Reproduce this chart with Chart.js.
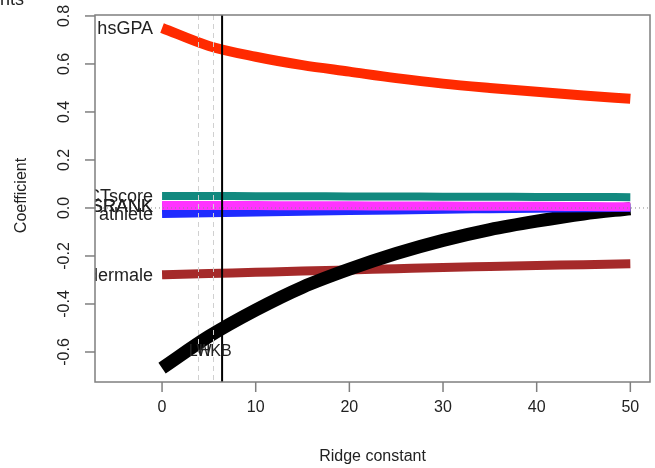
<!DOCTYPE html>
<html>
<head>
<meta charset="utf-8">
<script src="https://cdn.jsdelivr.net/npm/chart.js@4/dist/chart.umd.min.js"></script>
<style>
  body { margin: 0; background: #fff; }
</style>
</head>
<body>
<canvas id="ridge" width="655" height="468"></canvas>
<script>
// Valeurs (trace ridge)
const lambdas = [0, 5, 10, 15, 20, 25, 30, 35, 40, 45, 50];

const hsGPA      = [0.750, 0.675, 0.630, 0.595, 0.568, 0.541, 0.518, 0.500, 0.484, 0.469, 0.455];
const sexe       = [-0.667, -0.535, -0.425, -0.330, -0.255, -0.190, -0.135, -0.090, -0.055, -0.025, -0.003];
const gendermale = [-0.278, -0.273, -0.268, -0.263, -0.258, -0.253, -0.248, -0.244, -0.240, -0.236, -0.232];
const ACTscore   = [0.050, 0.050, 0.049, 0.049, 0.048, 0.048, 0.047, 0.047, 0.046, 0.046, 0.045];
const SRANK      = [0.010, 0.010, 0.010, 0.009, 0.009, 0.008, 0.008, 0.007, 0.007, 0.006, 0.005];
const HSRANK     = [0.007, 0.007, 0.007, 0.007, 0.007, 0.006, 0.006, 0.006, 0.005, 0.005, 0.004];
const athlete    = [-0.025, -0.022, -0.019, -0.016, -0.013, -0.010, -0.007, -0.005, -0.003, -0.001, 0.000];

const xTicks = [0, 10, 20, 30, 40, 50];
const yTicks = [-0.6, -0.4, -0.2, 0.0, 0.2, 0.4, 0.6, 0.8];

// lignes verticales : LW, HKB (pointillés) et GCV (trait plein)
const lignesTirets = [3.85, 5.45];
const ligneTexte = ['LW', 'HKB'];
const ligneGCV = 6.41;

const police = '"Liberation Sans", Arial, sans-serif';

function points(valeurs) {
  return lambdas.map((l, i) => ({ x: l, y: valeurs[i] }));
}

function serie(nom, valeurs, couleur, epaisseur) {
  return {
    label: nom,
    data: points(valeurs),
    borderColor: couleur,
    backgroundColor: couleur,
    borderWidth: epaisseur,
    borderCapStyle: 'butt',
    pointRadius: 0,
    cubicInterpolationMode: 'monotone',
    fill: false
  };
}

// Chart.js dessine le premier jeu au-dessus : ordre du haut vers le bas
const series = [
  serie('hsGPA', hsGPA, '#ff2a00', 10),
  serie('ACTscore', ACTscore, '#12897f', 8),
  serie('SRANK', SRANK, '#ff33ff', 9),
  serie('athlete', athlete, '#1f2bff', 8),
  serie('HSRANK', HSRANK, '#1f7a1f', 8),
  serie('', sexe, '#000000', 13),
  serie('gendermale', gendermale, '#a52a2a', 9)
];

const decorPlugin = {
  id: 'decor',
  afterDatasetsDraw(chart) {
    const ctx = chart.ctx;
    const a = chart.chartArea;
    const sx = chart.scales.x, sy = chart.scales.y;
    ctx.save();

    // ligne zéro pointillée
    ctx.strokeStyle = '#888';
    ctx.lineWidth = 1;
    ctx.setLineDash([1, 3]);
    const y0 = sy.getPixelForValue(0);
    ctx.beginPath(); ctx.moveTo(a.left, y0); ctx.lineTo(a.right, y0); ctx.stroke();

    // lignes LW / HKB
    ctx.strokeStyle = '#d0d0d0';
    ctx.setLineDash([5, 4]);
    lignesTirets.forEach(v => {
      const px = Math.round(sx.getPixelForValue(v)) + 0.5;
      ctx.beginPath(); ctx.moveTo(px, a.top); ctx.lineTo(px, a.bottom); ctx.stroke();
    });

    // ligne GCV
    ctx.setLineDash([]);
    ctx.strokeStyle = '#000';
    ctx.lineWidth = 2;
    const pg = sx.getPixelForValue(ligneGCV);
    ctx.beginPath(); ctx.moveTo(pg, a.top); ctx.lineTo(pg, a.bottom); ctx.stroke();

    // étiquettes des séries, coupées au cadre
    ctx.save();
    ctx.beginPath(); ctx.rect(a.left, a.top, a.right - a.left, a.bottom - a.top); ctx.clip();
    ctx.font = '18px ' + police;
    ctx.fillStyle = '#222';
    ctx.textAlign = 'right';
    ctx.textBaseline = 'middle';
    const xLab = sx.getPixelForValue(0) - 9;
    series.forEach(s => {
      if (!s.label) return;
      ctx.fillText(s.label, xLab, sy.getPixelForValue(s.data[0].y) + 1);
    });
    ctx.font = '16px ' + police;
    ctx.textAlign = 'center';
    lignesTirets.forEach((v, i) => {
      ctx.fillText(ligneTexte[i], sx.getPixelForValue(v) + 2, sy.getPixelForValue(-0.6));
    });
    ctx.restore();

    // cadre
    ctx.strokeStyle = '#7f7f7f';
    ctx.lineWidth = 1.5;
    ctx.strokeRect(a.left, a.top, a.right - a.left, a.bottom - a.top);

    // graduations x
    ctx.fillStyle = '#222';
    ctx.font = '16px ' + police;
    ctx.textAlign = 'center';
    ctx.textBaseline = 'middle';
    xTicks.forEach(v => {
      const px = sx.getPixelForValue(v);
      ctx.beginPath(); ctx.moveTo(px, a.bottom); ctx.lineTo(px, a.bottom + 10); ctx.stroke();
      ctx.fillText(String(v), px, 408);
    });

    // graduations y (texte vertical)
    yTicks.forEach(v => {
      const py = sy.getPixelForValue(v);
      ctx.beginPath(); ctx.moveTo(a.left, py); ctx.lineTo(a.left - 10, py); ctx.stroke();
      ctx.save();
      ctx.translate(65, py);
      ctx.rotate(-Math.PI / 2);
      ctx.fillText(v.toFixed(1), 0, 0);
      ctx.restore();
    });

    // titres des axes
    ctx.font = '16px ' + police;
    ctx.fillText('Ridge constant', (a.left + a.right) / 2, 457);
    ctx.save();
    ctx.translate(22, (a.top + a.bottom) / 2 - 3);
    ctx.rotate(-Math.PI / 2);
    ctx.fillText('Coefficient', 0, 0);
    ctx.restore();

    // reste du titre coupé en haut
    ctx.textAlign = 'left';
    ctx.textBaseline = 'alphabetic';
    ctx.font = '18px ' + police;
    ctx.fillText('nts', 0, 5);

    ctx.restore();
  }
};

new Chart(document.getElementById('ridge').getContext('2d'), {
  type: 'line',
  data: { datasets: series },
  options: {
    responsive: false,
    animation: false,
    layout: { padding: { left: 95, top: 15, right: 5, bottom: 86 } },
    plugins: {
      legend: { display: false },
      tooltip: { enabled: false }
    },
    scales: {
      x: { type: 'linear', min: -7.16, max: 52.1, display: false },
      y: { type: 'linear', min: -0.725, max: 0.804, display: false }
    }
  },
  plugins: [decorPlugin]
});
</script>
</body>
</html>
